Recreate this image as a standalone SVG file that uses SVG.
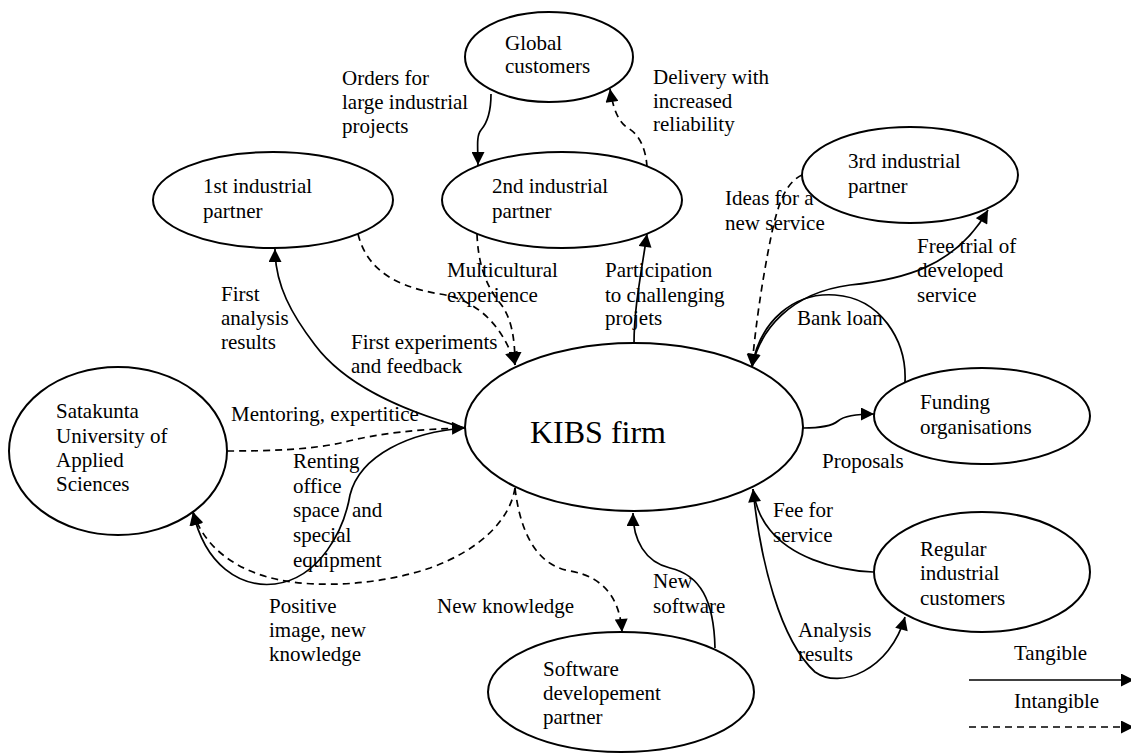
<svg xmlns="http://www.w3.org/2000/svg" width="1131" height="753" viewBox="0 0 1131 753">
  <style>
    .node { fill: #fff; stroke: #000; stroke-width: 2; }
    .lbl { font-family: "Liberation Serif", "Times New Roman", serif; font-size: 21px; fill: #000; }
    .big { font-size: 32px; }
    .flow { fill: none; stroke: #000; stroke-width: 1.7; marker-end: url(#arr); }
    .soft { stroke-dasharray: 7 5; }
  </style>
  <defs>
    <marker id="arr" viewBox="0 0 10 10" refX="10" refY="5" markerWidth="14" markerHeight="13" markerUnits="userSpaceOnUse" orient="auto">
      <path d="M0,0 L10,5 L0,10 z" fill="#000"/>
    </marker>
  </defs>
  <rect width="1131" height="753" fill="#fff"/>

  <g id="connectors">
    <!-- Global customers <-> 2nd industrial partner -->
    <path class="flow" d="M491,94 C491,110 488,122 481,130 C476,136 478,148 478,165"/>
    <path class="flow soft" d="M647,167 C646,150 640,135 628,128 C618,122 613,108 610,89"/>
    <!-- partners into KIBS -->
    <path class="flow soft" d="M358,234 C365,262 385,285 440,294 C480,300 505,330 515,365"/>
    <path class="flow soft" d="M477,234 C478,262 485,285 500,303 C512,318 515,340 515,365"/>
    <path class="flow" d="M634,344 C634,310 640,280 647,234"/>
    <path class="flow" d="M465,428 C400,410 345,385 315,345 C292,315 275,285 275,249"/>
    <!-- university -->
    <path class="flow soft" d="M227,451 C270,451 310,450 345,442 C380,433 420,429 465,428"/>
    <path class="flow" d="M465,428 C410,432 360,455 350,495 C344,530 320,578 275,584 C240,588 205,565 193,512"/>
    <path class="flow soft" d="M515,488 C510,520 480,550 430,568 C380,585 320,588 280,580 C240,572 205,550 193,512"/>
    <!-- software partner -->
    <path class="flow soft" d="M515,488 C520,530 535,565 570,571 C605,577 620,600 622,632"/>
    <path class="flow" d="M715,648 C714,600 700,575 670,568 C645,562 633,540 633,513"/>
    <!-- regular customers -->
    <path class="flow" d="M873,572 C830,570 790,555 770,530 C760,518 755,505 753,489"/>
    <path class="flow" d="M753,489 C760,560 780,640 815,672 C840,690 890,670 905,617"/>
    <!-- funding -->
    <path class="flow" d="M803,428 C822,428 832,426 838,421 C845,415 858,414 874,414"/>
    <path class="flow" d="M905,382 C907,340 880,298 835,295 C795,292 760,320 752,367"/>
    <!-- 3rd industrial partner -->
    <path class="flow soft" d="M802,175 C785,183 778,205 772,232 C762,280 755,330 752,367"/>
    <path class="flow" d="M752,367 C760,330 790,293 850,285 C900,280 955,268 988,210"/>
    <!-- legend -->
    <path class="flow" d="M969,680 L1134,680"/>
    <path class="flow soft" d="M969,727 L1134,727"/>
  </g>

  <g id="global">
    <ellipse class="node" cx="549" cy="57" rx="84" ry="45"/>
    <text class="lbl"><tspan x="505" y="50">Global</tspan><tspan x="505" y="73">customers</tspan></text>
  </g>
  <g id="partner1">
    <ellipse class="node" cx="273" cy="200" rx="120" ry="48"/>
    <text class="lbl"><tspan x="203" y="193">1st industrial</tspan><tspan x="203" y="218">partner</tspan></text>
  </g>
  <g id="partner2">
    <ellipse class="node" cx="562" cy="200" rx="120" ry="48"/>
    <text class="lbl"><tspan x="492" y="193">2nd industrial</tspan><tspan x="492" y="218">partner</tspan></text>
  </g>
  <g id="partner3">
    <ellipse class="node" cx="910" cy="175" rx="108" ry="48"/>
    <text class="lbl"><tspan x="848" y="168">3rd industrial</tspan><tspan x="848" y="193">partner</tspan></text>
  </g>
  <g id="kibs">
    <ellipse class="node" cx="634" cy="427" rx="169" ry="84"/>
    <text class="lbl big" x="530" y="443">KIBS firm</text>
  </g>
  <g id="satakunta">
    <ellipse class="node" cx="118" cy="451" rx="109" ry="84"/>
    <text class="lbl"><tspan x="56" y="418">Satakunta</tspan><tspan x="56" y="443">University of</tspan><tspan x="56" y="467">Applied</tspan><tspan x="56" y="491">Sciences</tspan></text>
  </g>
  <g id="funding">
    <ellipse class="node" cx="982" cy="416" rx="108" ry="48"/>
    <text class="lbl"><tspan x="920" y="409">Funding</tspan><tspan x="920" y="434">organisations</tspan></text>
  </g>
  <g id="regular">
    <ellipse class="node" cx="982" cy="572" rx="108" ry="60"/>
    <text class="lbl"><tspan x="920" y="556">Regular</tspan><tspan x="920" y="580">industrial</tspan><tspan x="920" y="605">customers</tspan></text>
  </g>
  <g id="software">
    <ellipse class="node" cx="621" cy="692" rx="133" ry="60"/>
    <text class="lbl"><tspan x="543" y="676">Software</tspan><tspan x="543" y="700">developement</tspan><tspan x="543" y="724">partner</tspan></text>
  </g>

  <g id="labels">
    <text class="lbl"><tspan x="342" y="85">Orders for</tspan><tspan x="342" y="109">large industrial</tspan><tspan x="342" y="133">projects</tspan></text>
    <text class="lbl"><tspan x="653" y="84">Delivery with</tspan><tspan x="653" y="108">increased</tspan><tspan x="653" y="131">reliability</tspan></text>
    <text class="lbl"><tspan x="725" y="205">Ideas for a</tspan><tspan x="725" y="230">new service</tspan></text>
    <text class="lbl"><tspan x="447" y="277">Multicultural</tspan><tspan x="447" y="302">experience</tspan></text>
    <text class="lbl"><tspan x="605" y="277">Participation</tspan><tspan x="605" y="302">to challenging</tspan><tspan x="605" y="325">projets</tspan></text>
    <text class="lbl"><tspan x="917" y="253">Free trial of</tspan><tspan x="917" y="277">developed</tspan><tspan x="917" y="302">service</tspan></text>
    <text class="lbl"><tspan x="221" y="301">First</tspan><tspan x="221" y="325">analysis</tspan><tspan x="221" y="349">results</tspan></text>
    <text class="lbl"><tspan x="351" y="349">First experiments</tspan><tspan x="351" y="373">and feedback</tspan></text>
    <text class="lbl" x="797" y="325">Bank loan</text>
    <text class="lbl" x="231" y="421">Mentoring, expertitice</text>
    <text class="lbl" x="822" y="468">Proposals</text>
    <text class="lbl"><tspan x="293" y="468">Renting</tspan><tspan x="293" y="493">office</tspan><tspan x="293" y="517">space</tspan><tspan x="352" y="517">and</tspan><tspan x="293" y="542">special</tspan><tspan x="293" y="567">equipment</tspan></text>
    <text class="lbl"><tspan x="773" y="517">Fee for</tspan><tspan x="773" y="542">service</tspan></text>
    <text class="lbl"><tspan x="653" y="588">New</tspan><tspan x="653" y="613">software</tspan></text>
    <text class="lbl"><tspan x="269" y="613">Positive</tspan><tspan x="269" y="637">image, new</tspan><tspan x="269" y="661">knowledge</tspan></text>
    <text class="lbl" x="437" y="613">New knowledge</text>
    <text class="lbl"><tspan x="798" y="637">Analysis</tspan><tspan x="798" y="661">results</tspan></text>
    <text class="lbl" x="1014" y="660">Tangible</text>
    <text class="lbl" x="1014" y="708">Intangible</text>
  </g>
</svg>
